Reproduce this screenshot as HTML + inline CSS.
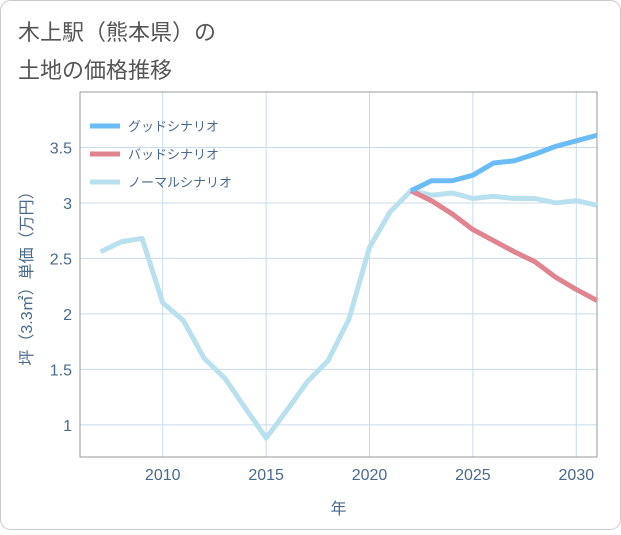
<!DOCTYPE html>
<html><head><meta charset="utf-8"><style>
body{margin:0;background:#fff;}
#wrap{position:relative;width:621px;height:530px;font-family:"Liberation Sans","Noto Sans CJK JP",sans-serif;}
</style></head><body>
<div id="wrap">
<svg id="chart" width="621" height="530"></svg>
</div>
<script>
const years=[2007,2008,2009,2010,2011,2012,2013,2014,2015,2016,2017,2018,2019,2020,2021,2022,2023,2024,2025,2026,2027,2028,2029,2030,2031];
const normalVals=[2.56,2.65,2.68,2.1,1.94,1.6,1.42,1.15,0.88,1.13,1.39,1.58,1.95,2.6,2.92,3.11,3.07,3.09,3.04,3.06,3.04,3.04,3.0,3.02,2.98];
const futureYears=[2022,2023,2024,2025,2026,2027,2028,2029,2030,2031];
const goodVals=[3.11,3.2,3.2,3.25,3.36,3.38,3.44,3.51,3.56,3.61];
const badVals=[3.11,3.02,2.9,2.76,2.66,2.56,2.47,2.33,2.22,2.12];
const xTicks=[2010,2015,2020,2025,2030];
const yTicks=[1,1.5,2,2.5,3,3.5];
const yTickLabels=["1","1.5","2","2.5","3","3.5"];
const legendLabels=["グッドシナリオ","バッドシナリオ","ノーマルシナリオ"];
const legendColors=["#6bbcf5","#e0848f","#b9e0ee"];

const L=80,R=597,T=92,B=457;
const x=v=>L+(v-2006)/(2031-2006)*(R-L);
const y=v=>B-(v-0.71)/(4.0-0.71)*(B-T);
const NS="http://www.w3.org/2000/svg";
const svg=document.getElementById('chart');
function el(t,a,p){const e=document.createElementNS(NS,t);for(const k in a)e.setAttribute(k,a[k]);(p||svg).appendChild(e);return e;}

const bg=el('rect',{x:0.5,y:0.5,width:620,height:529,rx:10,fill:'#fff',stroke:'#ccc'});


const t1=el('text',{x:18,y:40,'font-size':22,fill:'#555'});t1.textContent='木上駅（熊本県）の';

const t2=el('text',{x:18,y:78,'font-size':22,fill:'#555'});t2.textContent='土地の価格推移';


const grid=el('g',{});
xTicks.forEach(v=>{
 const g=el('line',{x1:x(v),x2:x(v),y1:T,y2:B,stroke:'#c8dcea','stroke-width':1},grid);
 
 const tx=el('text',{x:x(v),y:B+23,'font-size':16,fill:'#4a6a8a','text-anchor':'middle'});tx.textContent=v;
 
});
yTicks.forEach((v,i)=>{
 const g=el('line',{x1:L,x2:R,y1:y(v),y2:y(v),stroke:'#c8dcea','stroke-width':1},grid);
 
 const tx=el('text',{x:L-8,y:y(v)+6,'font-size':16,fill:'#4a6a8a','text-anchor':'end'});tx.textContent=yTickLabels[i];
 
});
const ax=el('rect',{x:L,y:T,width:R-L,height:B-T,fill:'none',stroke:'#999','stroke-width':1});


const xt=el('text',{x:(L+R)/2,y:514,'font-size':16,fill:'#4a6a8a','text-anchor':'middle'});xt.textContent='年';

const yt=el('text',{x:0,y:0,'font-size':16,fill:'#4a6a8a','text-anchor':'middle',transform:`translate(32,${(T+B)/2}) rotate(-90)`});yt.textContent='坪（3.3㎡）単価（万円）';


function line(xs,vs,color,name){
 const p=el('polyline',{points:xs.map((v,i)=>x(v)+','+y(vs[i])).join(' '),fill:'none',stroke:color,'stroke-width':5,'stroke-linejoin':'round'});
 
}
line(years,normalVals,legendColors[2],'normal-scenario-line');
line(futureYears,badVals,legendColors[1],'bad-scenario-line');
line(futureYears,goodVals,legendColors[0],'good-scenario-line');

legendLabels.forEach((s,i)=>{
 const g=el('g',{});
 const yy=126+i*28;
 el('line',{x1:90,x2:120,y1:yy,y2:yy,stroke:legendColors[i],'stroke-width':5},g);
 const tx=el('text',{x:128,y:yy+5,'font-size':13,fill:'#4a6a8a'},g);tx.textContent=s;
});
</script>
</body></html>
